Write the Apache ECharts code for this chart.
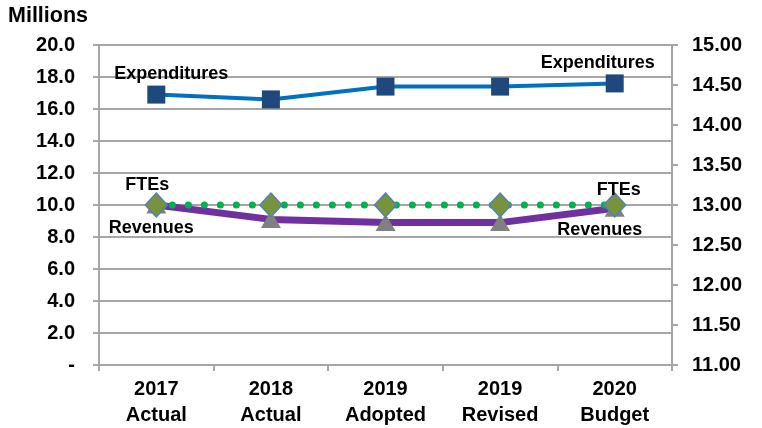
<!DOCTYPE html>
<html><head><meta charset="utf-8">
<script src="https://cdn.jsdelivr.net/npm/echarts@6/dist/echarts.min.js"></script>
<style>html,body{margin:0;padding:0;background:#fff}#c{width:762px;height:428px}</style>
</head><body><div id="c"></div>
<script>
var categories = ['2017\nActual', '2018\nActual', '2019\nAdopted', '2019\nRevised', '2020\nBudget'];
var expenditures = [16.9, 16.6, 17.4, 17.4, 17.6];
var revenues = [10.0, 9.1, 8.9, 8.9, 9.8];
var ftes = [13.0, 13.0, 13.0, 13.0, 13.0];
var leftTicks = { min: 0, max: 20, interval: 2 };
var rightTicks = { min: 11, max: 15, interval: 0.5 };

var FONT = '"Liberation Sans", Arial, sans-serif';
var NARROW = '"Liberation Sans Narrow", "Arial Narrow", "Liberation Sans", sans-serif';
var lblStyle = { show: true, color: '#000', fontFamily: FONT, fontWeight: 'bold', fontSize: 18 };

function withEndLabels(arr, firstOff, lastOff, text) {
  return arr.map(function (v, i) {
    if (i === 0) return { value: v, label: Object.assign({}, lblStyle, { formatter: text, offset: firstOff, position: 'inside' }) };
    if (i === arr.length - 1) return { value: v, label: Object.assign({}, lblStyle, { formatter: text, offset: lastOff, position: 'inside' }) };
    return v;
  });
}

var chart = echarts.init(document.getElementById('c'), null, { renderer: 'canvas' });
chart.setOption({
  animation: false,
  backgroundColor: '#fff',
  grid: { left: 99, right: 90, top: 45, bottom: 62, containLabel: false },
  graphic: [{ type: 'text', left: 8, top: 5, style: { text: 'Millions', fontFamily: FONT, fontWeight: 'bold', fontSize: 21.5, fill: '#000' } }],
  xAxis: {
    type: 'category', data: categories, boundaryGap: true,
    axisLine: { show: true, lineStyle: { color: '#a6a6a6', width: 2 } },
    axisTick: { show: true, length: 6, lineStyle: { color: '#a6a6a6', width: 2 } },
    axisLabel: { color: '#000', fontFamily: NARROW, fontWeight: 'bold', fontSize: 20, lineHeight: 26, margin: 11 }
  },
  yAxis: [{
    type: 'value', min: leftTicks.min, max: leftTicks.max, interval: leftTicks.interval,
    axisLine: { show: true, lineStyle: { color: '#a6a6a6', width: 2 } },
    axisTick: { show: true, length: 6, lineStyle: { color: '#a6a6a6', width: 2 } },
    splitLine: { show: true, lineStyle: { color: '#a6a6a6', width: 2 } },
    axisLabel: { color: '#000', fontFamily: FONT, fontWeight: 'bold', fontSize: 20, margin: 24,
      formatter: function (v) { return v === 0 ? '-' : v.toFixed(1); } }
  }, {
    type: 'value', position: 'right', min: rightTicks.min, max: rightTicks.max, interval: rightTicks.interval,
    axisLine: { show: true, lineStyle: { color: '#a6a6a6', width: 2 } },
    axisTick: { show: true, length: 6, lineStyle: { color: '#a6a6a6', width: 2 } },
    splitLine: { show: false },
    axisLabel: { color: '#000', fontFamily: FONT, fontWeight: 'bold', fontSize: 20, margin: 20,
      formatter: function (v) { return v.toFixed(2); } }
  }],
  series: [{
    name: 'Revenues', type: 'line', yAxisIndex: 0, z: 2,
    data: withEndLabels(revenues, [-5, 23], [-15, 22], 'Revenues'),
    lineStyle: { color: '#7030A0', width: 7 },
    symbol: 'triangle', symbolSize: [20, 17],
    itemStyle: { color: '#808080' }
  }, {
    name: 'FTEs', type: 'line', yAxisIndex: 1, z: 3,
    data: withEndLabels(ftes, [-9, -20], [4, -15], 'FTEs'),
    lineStyle: { color: '#00B050', width: 7, type: [0.1, 15.9], cap: 'round' },
    symbol: 'diamond', symbolSize: [22, 24],
    itemStyle: { color: '#77933C', borderColor: '#4F81BD', borderWidth: 1.5 }
  }, {
    name: 'Expenditures', type: 'line', yAxisIndex: 0, z: 4,
    data: withEndLabels(expenditures, [15, -21], [-17, -20], 'Expenditures'),
    lineStyle: { color: '#0070C0', width: 4 },
    symbol: 'rect', symbolSize: 18,
    itemStyle: { color: '#1F497D' }
  }]
});
</script></body></html>
